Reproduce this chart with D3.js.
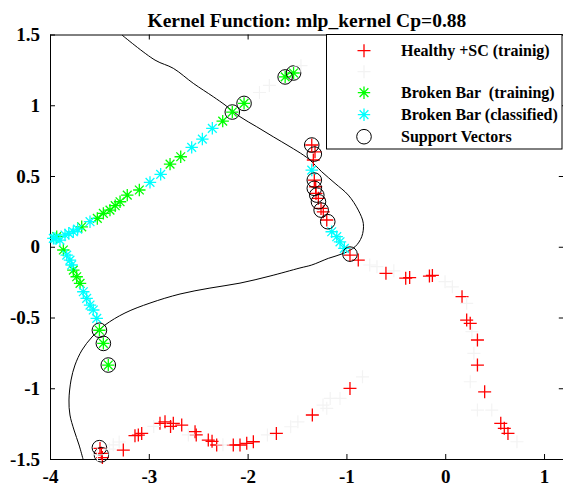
<!DOCTYPE html>
<html>
<head>
<meta charset="utf-8">
<script src="https://cdn.jsdelivr.net/npm/d3@7"></script>
<style>
  html, body { margin: 0; padding: 0; background: #fff; overflow: hidden; }
  svg { display: block; }
  text { font-family: "Liberation Serif", "Times New Roman", "DejaVu Serif", serif; font-weight: bold; fill: #000; white-space: pre; }
</style>
</head>
<body>
<svg id="chart" width="563" height="486"></svg>
<script>
// Healthy + SC, training samples (red +)
const healthyTraining = [
  [-1.351, 0.719], [-1.318, 0.671], [-1.335, 0.613], [-1.325, 0.471], [-1.311, 0.424],
  [-1.308, 0.377], [-1.284, 0.342], [-1.257, 0.271], [-1.234, 0.247], [-1.199, 0.189],
  [-0.964, -0.059], [-0.880, -0.094],
  [-0.600, -0.188], [-0.400, -0.222], [-0.360, -0.218], [-0.160, -0.207], [-0.130, -0.203],
  [0.170, -0.353], [0.217, -0.518], [0.253, -0.541], [0.326, -0.659], [0.326, -0.836],
  [0.399, -1.025], [0.562, -1.248], [0.598, -1.283], [0.635, -1.319],
  [-0.964, -1.001], [-1.345, -1.189], [-1.709, -1.319], [-1.942, -1.378], [-2.009, -1.389],
  [-2.077, -1.401], [-2.145, -1.401], [-2.313, -1.401], [-2.360, -1.375], [-2.398, -1.366],
  [-2.520, -1.330], [-2.532, -1.307], [-2.667, -1.260], [-2.752, -1.248], [-2.780, -1.270],
  [-2.836, -1.237], [-2.887, -1.248], [-3.072, -1.319], [-3.106, -1.331], [-3.140, -1.335],
  [-3.258, -1.437], [-3.494, -1.425], [-3.480, -1.460], [-3.470, -1.490]
];

// Healthy + SC, classified samples (near-white +)
const healthyClassified = [
  [-1.88, 1.09], [-1.78, 1.14], [-1.46, 1.28],
  [-0.764, -0.129], [-0.691, -0.141], [-0.52, -0.17], [-0.002, -0.247], [0.072, -0.283],
  [0.217, -0.400], [0.27, -0.60], [0.29, -0.753], [0.253, -0.954], [0.326, -1.154],
  [0.471, -1.154], [0.726, -1.378],
  [-0.837, -0.919], [-1.065, -1.072], [-1.164, -1.072], [-1.199, -1.142], [-1.237, -1.119],
  [-1.491, -1.237], [-1.564, -1.272], [-1.80, -1.33],
  [-3.36, -1.40], [-3.40, -1.43], [-3.52, -1.47], [-3.30, -1.38], [-2.95, -1.27],
  [-2.60, -1.33], [-2.25, -1.40]
];

// Broken bar, training samples (green *)
const brokenTraining = [
  [-2.036, 1.013], [-2.155, 0.952], [-2.252, 0.888], [-1.620, 1.200], [-1.535, 1.228],
  [-2.677, 0.636], [-2.785, 0.584], [-3.096, 0.401], [-3.218, 0.365], [-3.291, 0.318],
  [-3.340, 0.290], [-3.393, 0.259], [-3.460, 0.236], [-3.521, 0.200], [-3.679, 0.141],
  [-3.932, 0.071],
  [-3.865, -0.023], [-3.764, -0.165], [-3.730, -0.212], [-3.696, -0.259],
  [-3.500, -0.590], [-3.460, -0.683], [-3.410, -0.836]
];

// Broken bar, classified samples (cyan *)
const brokenClassified = [
  [-2.357, 0.837], [-2.458, 0.761], [-2.566, 0.702], [-2.880, 0.512], [-2.988, 0.455],
  [-3.595, 0.177], [-3.720, 0.125], [-3.764, 0.106], [-3.810, 0.095], [-3.848, 0.083],
  [-3.966, 0.059], [-3.949, 0.059], [-3.899, 0.047],
  [-3.831, -0.059], [-3.798, -0.094], [-3.781, -0.129], [-3.663, -0.318], [-3.629, -0.365],
  [-3.595, -0.412], [-3.562, -0.447], [-3.527, -0.506],
  [-1.351, 0.542], [-1.149, 0.106], [-1.098, 0.071], [-1.065, 0.035], [-1.021, -0.011]
];

// Support vectors (black circles)
const supportVectors = [
  [-2.036, 1.013], [-2.155, 0.952], [-1.620, 1.200], [-1.535, 1.228],
  [-1.351, 0.719], [-1.325, 0.655], [-1.325, 0.471], [-1.325, 0.413], [-1.300, 0.365],
  [-1.283, 0.318], [-1.256, 0.259], [-1.189, 0.177], [-0.964, -0.052],
  [-3.500, -0.590], [-3.460, -0.683], [-3.410, -0.836],
  [-3.500, -1.420], [-3.480, -1.470]
];

// Decision boundary of the classifier
const boundary = [
  [-3.271, 1.496], [-2.937, 1.319], [-2.752, 1.261], [-2.550, 1.155], [-2.347, 1.060],
  [-2.229, 1.002], [-2.077, 0.919], [-1.908, 0.848], [-1.740, 0.777], [-1.571, 0.707],
  [-1.436, 0.648], [-1.368, 0.612], [-1.250, 0.530], [-1.115, 0.448], [-0.981, 0.365],
  [-0.880, 0.259], [-0.829, 0.165], [-0.845, 0.071], [-0.913, 0.000], [-1.031, -0.047],
  [-1.183, -0.082], [-1.351, -0.129], [-1.470, -0.150], [-1.773, -0.207], [-2.077, -0.257],
  [-2.381, -0.292], [-2.684, -0.334], [-2.988, -0.398], [-3.241, -0.468], [-3.443, -0.553],
  [-3.575, -0.638], [-3.676, -0.730], [-3.747, -0.836], [-3.787, -0.942], [-3.808, -1.083],
  [-3.798, -1.189], [-3.757, -1.295], [-3.706, -1.401], [-3.666, -1.500]
];

const xTicks = [-4, -3, -2, -1, 0, 1];
const yTicks = [-1.5, -1, -0.5, 0, 0.5, 1, 1.5];
const xTickLabels = ["-4", "-3", "-2", "-1", "0", "1"];
const yTickLabels = ["-1.5", "-1", "-0.5", "0", "0.5", "1", "1.5"];

const titleText = "Kernel Function: mlp_kernel Cp=0.88";
const legendLabels = ["Healthy +SC (trainig)", "", "Broken Bar  (training)", "Broken Bar (classified)", "Support Vectors"];

const svg = d3.select("#chart");
const plotLeft = 50, plotRight = 563.8, plotTop = 34.5, plotBottom = 459;

const x = d3.scaleLinear().domain([-4, 1.2]).range([plotLeft, plotRight]);
const y = d3.scaleLinear().domain([-1.5, 1.5]).range([plotBottom, plotTop]);

// Axes with inward ticks on all four sides
const fmtX = d => xTickLabels[xTicks.indexOf(d)];
const fmtY = d => yTickLabels[yTicks.indexOf(d)];

function styleAxis(g) {
  g.selectAll("path.domain").attr("stroke", "#000").attr("stroke-width", 1);
  g.selectAll(".tick line").attr("stroke", "#000").attr("stroke-width", 1);
  g.selectAll("text").attr("font-family", null).attr("font-size", null)
    .style("font-size", "19px");
}

svg.append("g").attr("transform", `translate(0,${plotBottom})`)
  .call(d3.axisBottom(x).tickValues(xTicks).tickFormat(fmtX).tickSize(-5).tickSizeOuter(0).tickPadding(10.5))
  .call(styleAxis);
svg.append("g").attr("transform", `translate(0,${plotTop})`)
  .call(d3.axisTop(x).tickValues(xTicks).tickFormat("").tickSize(-5).tickSizeOuter(0))
  .call(styleAxis);
svg.append("g").attr("transform", `translate(${plotLeft},0)`)
  .call(d3.axisLeft(y).tickValues(yTicks).tickFormat(fmtY).tickSize(-5).tickSizeOuter(0).tickPadding(10))
  .call(styleAxis);
svg.append("g").attr("transform", `translate(${plotRight},0)`)
  .call(d3.axisRight(y).tickValues(yTicks).tickFormat("").tickSize(-5).tickSizeOuter(0))
  .call(styleAxis);

// Title
svg.append("text")
  .attr("x", (plotLeft + plotRight) / 2).attr("y", 26.5)
  .attr("text-anchor", "middle")
  .style("font-size", "19.5px")
  .text(titleText);

// Boundary line
svg.append("path")
  .datum(boundary)
  .attr("fill", "none")
  .attr("stroke", "#000")
  .attr("stroke-width", 1)
  .attr("d", d3.line().x(d => x(d[0])).y(d => y(d[1])).curve(d3.curveCatmullRom.alpha(0.5)));

// Marker shapes
const plusPath = r => `M${-r},0H${r}M0,${-r}V${r}`;
const starPath = r => {
  const k = r * Math.SQRT1_2;
  return `M${-r},0H${r}M0,${-r}V${r}M${-k},${-k}L${k},${k}M${-k},${k}L${k},${-k}`;
};

function drawMarkers(data, pathStr, color, width) {
  svg.append("g").selectAll("path").data(data).join("path")
    .attr("transform", d => `translate(${x(d[0])},${y(d[1])})`)
    .attr("d", pathStr)
    .attr("fill", "none")
    .attr("stroke", color)
    .attr("stroke-width", width);
}

const faintColor = "#f3f3f3";

drawMarkers(healthyTraining, plusPath(6.5), "#ff0000", 1.3);
drawMarkers(brokenTraining, starPath(6.2), "#00ff00", 1.3);
drawMarkers(brokenClassified, starPath(6.2), "#00ffff", 1.3);

svg.append("g").selectAll("circle").data(supportVectors).join("circle")
  .attr("cx", d => x(d[0])).attr("cy", d => y(d[1]))
  .attr("r", 7.3)
  .attr("fill", "none").attr("stroke", "#000").attr("stroke-width", 1);

drawMarkers(healthyClassified, plusPath(6.5), faintColor, 1.2);

// Legend
const lg = svg.append("g");
lg.append("rect")
  .attr("x", 326.5).attr("y", plotTop).attr("width", 235.5).attr("height", 114.5)
  .attr("fill", "#fff").attr("stroke", "#000").attr("stroke-width", 1);

const rowY = [50.7, 71.7, 92.7, 114.7, 136.7];
const symX = 364;
const legendStyles = [
  { d: plusPath(6.5), color: "#ff0000" },
  { d: plusPath(6.5), color: faintColor },
  { d: starPath(6.2), color: "#00ff00" },
  { d: starPath(6.2), color: "#00ffff" },
  null
];
legendLabels.forEach((label, i) => {
  if (legendStyles[i]) {
    lg.append("path")
      .attr("transform", `translate(${symX},${rowY[i]})`)
      .attr("d", legendStyles[i].d)
      .attr("fill", "none").attr("stroke", legendStyles[i].color).attr("stroke-width", 1.3);
  } else {
    lg.append("circle").attr("cx", symX).attr("cy", rowY[i]).attr("r", 7.3)
      .attr("fill", "none").attr("stroke", "#000").attr("stroke-width", 1);
  }
  if (label) {
    lg.append("text")
      .attr("x", 401).attr("y", rowY[i] + 5.5)
      .style("font-size", "16px")
      .text(label);
  }
});
</script>
</body>
</html>
